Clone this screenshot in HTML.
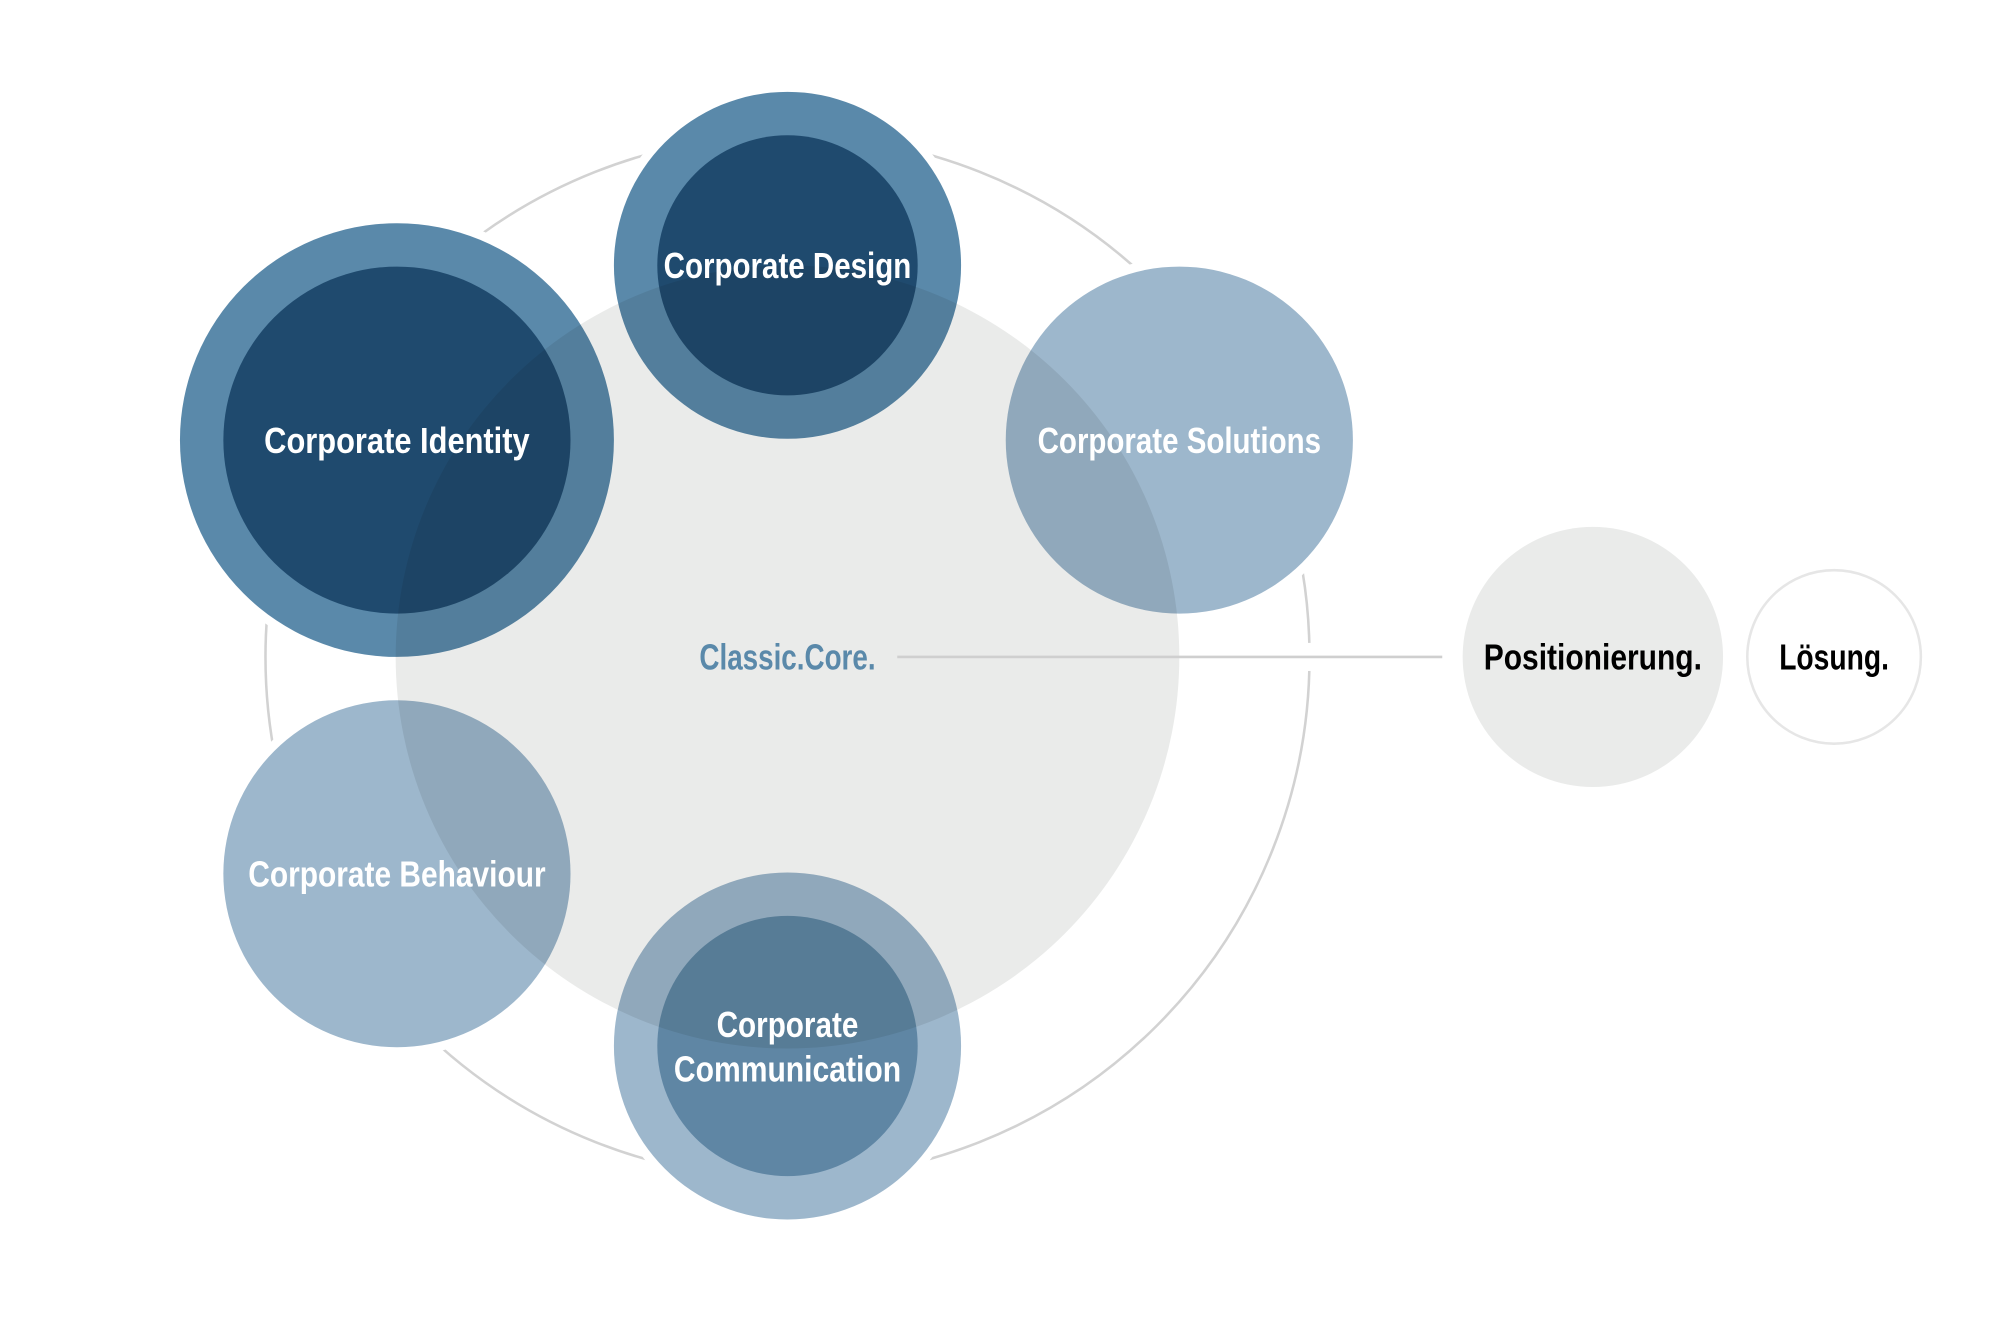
<!DOCTYPE html>
<html><head><meta charset="utf-8"><style>
html,body{margin:0;padding:0;background:#fff;}
svg{display:block;}
text{font-family:"Liberation Sans Narrow","Liberation Sans",sans-serif;font-weight:bold;text-anchor:middle;}
</style></head><body>
<svg width="2000" height="1333" viewBox="0 0 1567 1045" preserveAspectRatio="none">
<defs>
<mask id="m">
<rect x="0" y="0" width="1600" height="1100" fill="#fff"/>
<circle cx="617" cy="208" r="143" fill="#000"/>
<circle cx="311" cy="345" r="177" fill="#000"/>
<circle cx="924" cy="345" r="143" fill="#000"/>
<circle cx="311" cy="685" r="143" fill="#000"/>
<circle cx="617" cy="820" r="143" fill="#000"/>
<rect x="1010" y="504" width="30" height="22" fill="#000"/>
</mask>
</defs>
<circle cx="617" cy="515" r="409" fill="none" stroke="#d2d2d2" stroke-width="2" mask="url(#m)"/>
<circle cx="617" cy="515" r="307" fill="#eaebea"/>
<line x1="703" y1="515" x2="1130" y2="515" stroke="#cfcfcf" stroke-width="2"/>
<g style="mix-blend-mode:multiply">
<circle cx="617" cy="208" r="136" fill="#5a89aa"/>
<circle cx="617" cy="208" r="102" fill="#1f4a6e"/>
</g>
<g style="mix-blend-mode:multiply">
<circle cx="311" cy="345" r="170" fill="#5a89aa"/>
<circle cx="311" cy="345" r="136" fill="#1f4a6e"/>
</g>
<circle cx="924" cy="345" r="136" fill="#9db7cc" style="mix-blend-mode:multiply"/>
<circle cx="311" cy="685" r="136" fill="#9db7cc" style="mix-blend-mode:multiply"/>
<g style="mix-blend-mode:multiply">
<circle cx="617" cy="820" r="136" fill="#9db7cc"/>
<circle cx="617" cy="820" r="102" fill="#5f86a4"/>
</g>
<circle cx="1248" cy="515" r="102" fill="#eaebea"/>
<circle cx="1437" cy="515" r="68" fill="#fff" stroke="#e6e6e6" stroke-width="2"/>
<g fill="#fff" font-size="28">
<text x="617" y="218" textLength="194" lengthAdjust="spacingAndGlyphs">Corporate Design</text>
<text x="311" y="355" textLength="208" lengthAdjust="spacingAndGlyphs">Corporate Identity</text>
<text x="924" y="355" textLength="222" lengthAdjust="spacingAndGlyphs">Corporate Solutions</text>
<text x="311" y="695" textLength="233" lengthAdjust="spacingAndGlyphs">Corporate Behaviour</text>
<text x="617" y="813" textLength="111" lengthAdjust="spacingAndGlyphs">Corporate</text>
<text x="617" y="848" textLength="178" lengthAdjust="spacingAndGlyphs">Communication</text>
</g>
<text x="617" y="525" font-size="28" fill="#5a89aa" textLength="138" lengthAdjust="spacingAndGlyphs">Classic.Core.</text>
<text x="1248" y="525" font-size="28" fill="#000" textLength="171" lengthAdjust="spacingAndGlyphs">Positionierung.</text>
<text x="1437" y="525" font-size="28" fill="#000" textLength="86" lengthAdjust="spacingAndGlyphs">Lösung.</text>
</svg>
</body></html>
